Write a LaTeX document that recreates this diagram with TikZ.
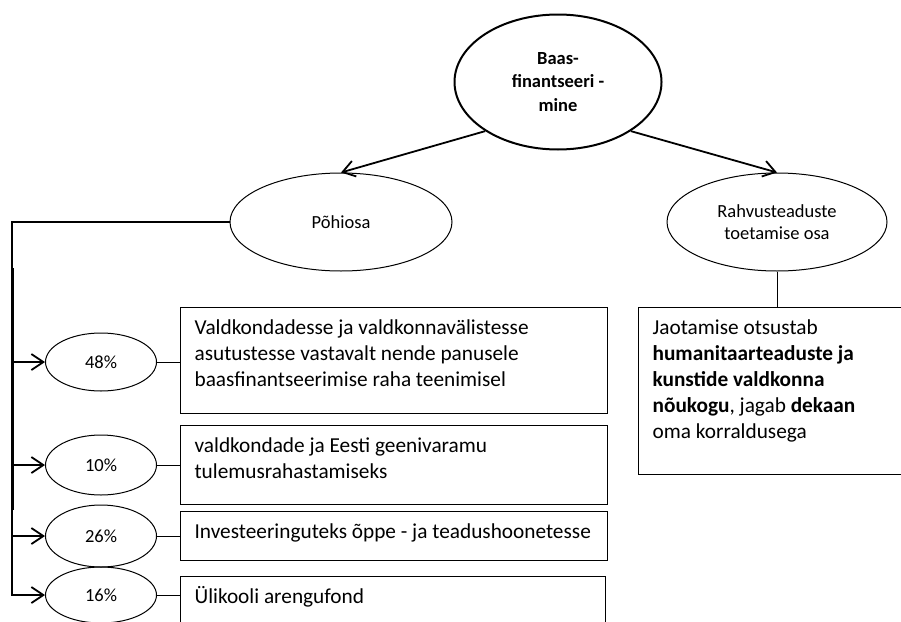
\documentclass[tikz,border=0pt]{standalone}
\usepackage{fontspec}
\setmainfont{Carlito}
\usetikzlibrary{shapes.geometric,arrows.meta}

\begin{document}
\begin{tikzpicture}[x=1pt,y=-1pt,
    oval/.style={draw=black,ellipse,inner sep=0pt,align=flush center,line width=1pt,
      font=\fontsize{18.5}{22.6}\selectfont},
    txtbox/.style={draw=black,line width=1.2pt,anchor=north west,inner xsep=14pt,
      inner ysep=0pt,text height=27pt,align=flush left,font=\fontsize{21.3}{26}\selectfont},
    pil/.style={line width=1.8pt,-{Straight Barb[length=12pt,width=16pt]}},
    link/.style={line width=0.9pt}]
\useasboundingbox (0,0) rectangle (901,621);
\clip (0,0) rectangle (901,621);
\node[oval,line width=2pt,minimum width=207pt,minimum height=135pt,
  font=\bfseries\fontsize{18.5}{23.5}\selectfont] (baas) at (558,82) {Baas-\\finantseeri -\\mine};
\node[oval,minimum width=222pt,minimum height=98pt] (pohi) at (341,222) {Põhiosa};
\node[oval,minimum width=220pt,minimum height=98pt] (rahvus) at (777,222) {Rahvusteaduste\\toetamise osa};
\node[oval,minimum width=111pt,minimum height=58pt] (p48) at (101,362) {48\%};
\node[oval,minimum width=111pt,minimum height=60pt] (p10) at (101,465) {10\%};
\node[oval,minimum width=111pt,minimum height=62pt] (p26) at (101,536) {26\%};
\node[oval,minimum width=111pt,minimum height=56pt] (p16) at (101,595) {16\%};
\node[txtbox,text width=399pt,text depth=79pt] (b48) at (180,307)
  {Valdkondadesse ja valdkonnavälistesse\\asutustesse vastavalt nende panusele\\baasfinantseerimise raha teenimisel};
\node[txtbox,text width=399pt,text depth=52pt] (b10) at (180,425)
  {valdkondade ja Eesti geenivaramu\\tulemusrahastamiseks};
\node[txtbox,text width=399pt,text depth=22pt] (b26) at (180,511)
  {Investeeringuteks õppe - ja teadushoonetesse};
\node[txtbox,text width=397pt,text depth=40pt] (b16) at (180,576)
  {Ülikooli arengufond};
\node[txtbox,text width=254pt,text depth=140pt] (jaot) at (638,307)
  {Jaotamise otsustab\\\textbf{humanitaarteaduste ja}\\\textbf{kunstide valdkonna}\\\textbf{nõukogu}, jagab \textbf{dekaan}\\oma korraldusega};
\coordinate (knee) at (12,222);
\draw[pil] (baas.214) -- (pohi.north);
\draw[pil] (baas.-34) -- (rahvus.north);
\draw[pil] (pohi.west) -- (knee) -- (knee |- p16.west) -- (p16.west);
\draw[line width=2.8pt] (13,268) -- (13,510);
\foreach \p in {p48,p10,p26}
  \draw[pil] (knee |- \p.west) -- (\p.west);
\foreach \p/\b in {p48/b48,p10/b10,p26/b26,p16/b16}
  \draw[link] (\p.east) -- (\p.east -| \b.west);
\draw[link] (rahvus.south) -- (rahvus.south |- jaot.north);
\end{tikzpicture}
\end{document}
